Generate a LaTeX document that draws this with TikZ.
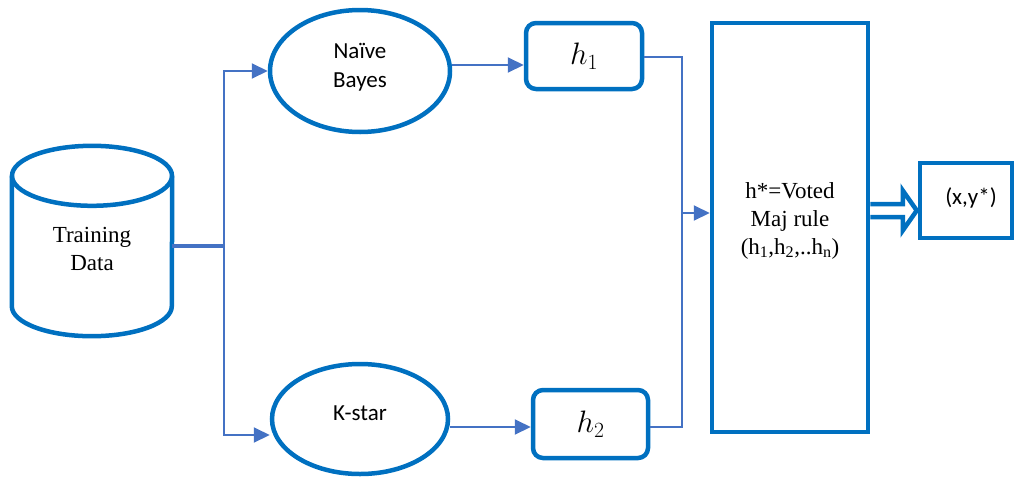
\RequirePackage{fix-cm}
\documentclass[tikz,border=0pt]{standalone}
\usepackage{fontspec}
\setmainfont{Liberation Serif}
\newfontfamily\calib{Carlito}
\usetikzlibrary{shapes.geometric,arrows.meta,calc}
\definecolor{sblue}{HTML}{0070C0}
\definecolor{cblue}{HTML}{4472C4}
\begin{document}
\begin{tikzpicture}[x=1pt,y=-1pt,
  shp/.style={draw=sblue, line width=4.5pt},
  wire/.style={draw=cblue, line width=2pt},
  conn/.style={wire, -{Triangle[length=16pt,width=15pt]}},
  serif/.style={font=\fontsize{23}{28}\selectfont},
  sans/.style={font=\calib\fontsize{23}{29.5}\selectfont},
  hbox/.style={shp, rounded corners=10pt, inner sep=0pt, font=\fontsize{31}{34}\selectfont}]
\useasboundingbox (0,0) rectangle (1014,477);

% cylinder
\node[inner sep=0pt, minimum width=160pt, minimum height=190pt] (td) at (92,241) {};
\draw[shp, line join=round] ($(td.north west)+(0,30)$) -- ($(td.south west)+(0,-30)$)
  arc[start angle=180, end angle=0, x radius=80, y radius=30]
  -- ($(td.north east)+(0,30)$);
\draw[shp] ($(td.north)+(0,30)$) ellipse [x radius=80, y radius=30];
\node[serif, align=center] (tdlabel) at (92,249) {Training\\Data};

% classifiers
\node[shp, ellipse, inner sep=0pt, minimum width=180pt, minimum height=122pt] (nb) at (360,71) {};
\node[sans, align=center] (nblabel) at (360,67) {Naïve\\Bayes};
\node[shp, ellipse, inner sep=0pt, minimum width=176pt, minimum height=110pt] (ks) at (360,419) {};
\node[sans] (kslabel) at (360,413) {K-star};

% hypotheses
\node[hbox, minimum width=116pt, minimum height=66pt] (h1) at (584,56) {$h_1$};
\node[hbox, minimum width=115pt, minimum height=68pt] (h2) at (590.5,424) {$h_2$};

% vote box
\node[shp, inner sep=0pt, minimum width=156pt, minimum height=409pt] (vote) at (790,227.5) {};
\node[serif, align=center] (votelabel) at (790,221) {h*=Voted\\Maj rule\\(h\textsubscript{1},h\textsubscript{2},..h\textsubscript{n})};

% output box
\node[shp, inner sep=0pt, minimum width=92pt, minimum height=75pt] (xy) at (966,200.5) {};
\node[sans] (xylabel) at (971,198) {(x,y*)};

% connectors
\coordinate (split) at (224,246);
\draw[wire, line width=3.5pt] (td.east |- split) -- (split);
\draw[conn] (split) |- (nb.west);
\draw[conn] (split) |- ([yshift=-16pt]ks.west);
\draw[conn] ([yshift=6pt]nb.east) -- ([yshift=6pt]nb.east -| h1.west);
\draw[conn] ([yshift=-8pt]ks.east) -- ([yshift=-8pt]ks.east -| h2.west);
\coordinate (merge) at (682,213);
\draw[wire] ([yshift=-1pt]h1.east) -| (merge);
\draw[wire] ([yshift=-3pt]h2.east) -| (merge);
\draw[conn] (merge) -- (merge -| vote.west);

% block arrow
\coordinate (bt) at ([yshift=-10pt]xy.west);
\coordinate (ba) at (bt -| vote.east);
\draw[shp, fill=white, line join=miter]
  ($(ba)+(0,-6.5)$) -- ($(bt)+(-15,-6.5)$) -- ($(bt)+(-15,-20)$) -- ($(bt)+(-1,0)$)
  -- ($(bt)+(-15,20)$) -- ($(bt)+(-15,6.5)$) -- ($(ba)+(0,6.5)$);
\end{tikzpicture}
\end{document}
